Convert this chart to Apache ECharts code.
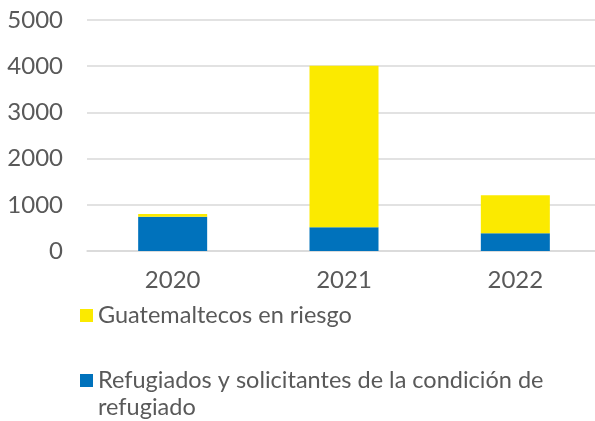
<!DOCTYPE html>
<html>
<head>
<meta charset="utf-8">
<script src="https://cdn.jsdelivr.net/npm/echarts@6/dist/echarts.min.js"></script>
<style>
html, body { margin: 0; padding: 0; background: #fff; overflow: hidden; }
#chart { width: 601px; height: 421px; }
</style>
</head>
<body>
<div id="chart"></div>
<script>
const years = ['2020', '2021', '2022']
const enRiesgo = [60, 3495, 820]
const refugiados = [740, 515, 385]
const yTicks = [0, 1000, 2000, 3000, 4000, 5000]

const TEXT = '#595959'
const FONT = 'Lato'

// the plot area runs a little past the right edge of the window
let chart = echarts.init(document.getElementById('chart'))
chart.setOption({
  animation: false,
  grid: { left: 87, right: 0, top: 20, bottom: 170 },
  legend: {
    orient: 'vertical',
    left: 80,
    top: 302,
    width: 510,
    height: 300,
    padding: 0,
    itemWidth: 13,
    itemHeight: 13,
    itemGap: 11,
    icon: 'rect',
    data: ['Guatemaltecos en riesgo', 'Refugiados y solicitantes de la condición de refugiado'],
    formatter: name => name === 'Guatemaltecos en riesgo'
      ? name
      : '\nRefugiados y solicitantes de la condición de\nrefugiado',
    textStyle: { fontFamily: FONT, fontSize: 23.5, color: TEXT, lineHeight: 27 }
  },
  xAxis: {
    type: 'category',
    data: years,
    axisLine: { lineStyle: { color: '#d9d9d9', width: 1.5 } },
    axisTick: { show: false },
    axisLabel: { fontFamily: FONT, fontSize: 24, color: TEXT, margin: 17 }
  },
  yAxis: {
    type: 'value',
    min: yTicks[0],
    max: yTicks[yTicks.length - 1],
    interval: 1000,
    axisLine: { show: false },
    axisTick: { show: false },
    splitLine: { lineStyle: { color: '#d9d9d9', width: 1.5 } },
    axisLabel: { fontFamily: FONT, fontSize: 24, color: TEXT, margin: 24, formatter: v => String(v) }
  },
  series: [
    {
      name: 'Refugiados y solicitantes de la condición de refugiado',
      type: 'bar',
      stack: 'total',
      barWidth: 69,
      itemStyle: { color: '#0072BC' },
      data: refugiados
    },
    {
      name: 'Guatemaltecos en riesgo',
      type: 'bar',
      stack: 'total',
      barWidth: 69,
      itemStyle: { color: '#FBEA00' },
      data: enRiesgo
    }
  ]
})
</script>
</body>
</html>
